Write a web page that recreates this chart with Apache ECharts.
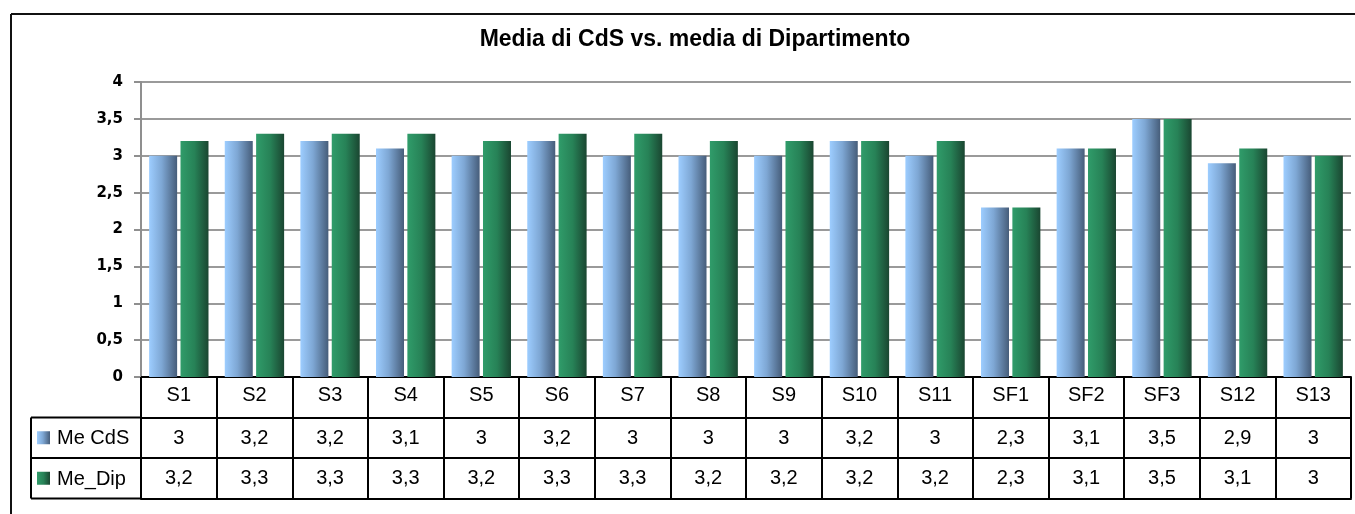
<!DOCTYPE html>
<html>
<head>
<meta charset="utf-8">
<script src="https://cdn.jsdelivr.net/npm/echarts@6/dist/echarts.min.js"></script>
<style>
  html, body { margin: 0; padding: 0; background: #fff; }
  #chart { width: 1355px; height: 514px; }
</style>
</head>
<body>
<div id="chart"></div>
<script>
// dati
const categories = ['S1', 'S2', 'S3', 'S4', 'S5', 'S6', 'S7', 'S8', 'S9', 'S10', 'S11', 'SF1', 'SF2', 'SF3', 'S12', 'S13'];
const seriesNames = ['Me CdS', 'Me_Dip'];
const meCdS = [3, 3.2, 3.2, 3.1, 3, 3.2, 3, 3, 3, 3.2, 3, 2.3, 3.1, 3.5, 2.9, 3];
const meDip = [3.2, 3.3, 3.3, 3.3, 3.2, 3.3, 3.3, 3.2, 3.2, 3.2, 3.2, 2.3, 3.1, 3.5, 3.1, 3];

const fmt = v => String(v).replace('.', ',');

const blueGrad = new echarts.graphic.LinearGradient(0, 0, 1, 0, [
  { offset: 0, color: '#9dcdff' },
  { offset: 0.45, color: '#7ea7d4' },
  { offset: 1, color: '#465d7a' }
]);
const greenGrad = new echarts.graphic.LinearGradient(0, 0, 1, 0, [
  { offset: 0, color: '#309c6a' },
  { offset: 0.5, color: '#278257' },
  { offset: 1, color: '#1a4631' }
]);

// layout
const gLeft = 141, gRight = 1351, gTop = 82, gBottom = 377;
const rowH = 40.5;
const tableLeft = 31;
const tableFont = 'Liberation Sans, Arial';

const myChart = echarts.init(document.querySelector('#chart'));

const tableAxis = (offset, values, showLabel, margin) => ({
  type: 'category',
  position: 'bottom',
  offset: offset,
  gridIndex: 0,
  data: categories,
  axisLine: { show: true, lineStyle: { color: '#000', width: 2 } },
  axisTick: { show: offset < 3 * rowH, length: rowH, lineStyle: { color: '#000', width: 2 } },
  axisLabel: {
    show: showLabel,
    margin: margin,
    fontFamily: tableFont,
    fontSize: 20,
    color: '#000',
    verticalAlign: 'middle',
    formatter: (v, i) => values ? fmt(values[i]) : v
  },
  splitLine: { show: false }
});

const option = {
  animation: false,
  title: {
    text: 'Media di CdS vs. media di Dipartimento',
    left: 690,
    top: 23,
    textAlign: 'center',
    textStyle: { fontFamily: tableFont, fontWeight: 'bold', fontSize: 23, color: '#000' }
  },
  grid: { left: gLeft, right: 1355 - gRight, top: gTop, bottom: 514 - gBottom, containLabel: false },
  xAxis: [
    tableAxis(0, null, true, 18),
    tableAxis(rowH, meCdS, true, 21),
    tableAxis(rowH * 2, meDip, true, 20),
    tableAxis(rowH * 3, null, false, 0)
  ],
  yAxis: {
    type: 'value',
    min: 0,
    max: 4,
    interval: 0.5,
    axisLine: { show: true, lineStyle: { color: '#8f8f8f', width: 2 } },
    axisTick: { show: true, length: 7, lineStyle: { color: '#8f8f8f', width: 2 } },
    axisLabel: {
      margin: 18,
      fontFamily: 'DejaVu Sans',
      fontWeight: 'bold',
      fontSize: 15,
      color: '#000',
      padding: [6, 0, 0, 0],
      formatter: v => fmt(v)
    },
    splitLine: { lineStyle: { color: '#9a9a9a', width: 2 } }
  },
  series: [
    {
      name: seriesNames[0],
      type: 'bar',
      xAxisIndex: 0,
      data: meCdS,
      barWidth: 28,
      barGap: '12%',
      itemStyle: { color: blueGrad }
    },
    {
      name: seriesNames[1],
      type: 'bar',
      xAxisIndex: 0,
      data: meDip,
      barWidth: 28,
      itemStyle: { color: greenGrad }
    }
  ],
  graphic: [
    // bordo esterno del grafico
    { type: 'line', shape: { x1: 11, y1: 14, x2: 1360, y2: 14 }, style: { stroke: '#111', lineWidth: 2 } },
    { type: 'line', shape: { x1: 11, y1: 14, x2: 11, y2: 520 }, style: { stroke: '#111', lineWidth: 2 } },
    // colonna legenda della tabella
    { type: 'line', shape: { x1: tableLeft, y1: gBottom + rowH, x2: gLeft, y2: gBottom + rowH }, style: { stroke: '#000', lineWidth: 2 } },
    { type: 'line', shape: { x1: tableLeft, y1: gBottom + rowH * 2, x2: gLeft, y2: gBottom + rowH * 2 }, style: { stroke: '#000', lineWidth: 2 } },
    { type: 'line', shape: { x1: tableLeft, y1: gBottom + rowH * 3, x2: gLeft, y2: gBottom + rowH * 3 }, style: { stroke: '#000', lineWidth: 2 } },
    { type: 'line', shape: { x1: tableLeft, y1: gBottom + rowH, x2: tableLeft, y2: gBottom + rowH * 3 }, style: { stroke: '#000', lineWidth: 2 } },
    { type: 'line', shape: { x1: gLeft, y1: gBottom, x2: gLeft, y2: gBottom + rowH * 3 }, style: { stroke: '#000', lineWidth: 2 } },
    { type: 'rect', shape: { x: 37, y: gBottom + rowH * 1.5 - 6.5, width: 13, height: 13 }, style: { fill: blueGrad } },
    { type: 'rect', shape: { x: 37, y: gBottom + rowH * 2.5 - 6.5, width: 13, height: 13 }, style: { fill: greenGrad } },
    { type: 'text', x: 57, y: gBottom + rowH * 1.5 + 1, style: { text: seriesNames[0], fontFamily: tableFont, fontSize: 20, fill: '#000', verticalAlign: 'middle' } },
    { type: 'text', x: 57, y: gBottom + rowH * 2.5 + 1, style: { text: seriesNames[1], fontFamily: tableFont, fontSize: 20, fill: '#000', verticalAlign: 'middle' } }
  ]
};

myChart.setOption(option);
</script>
</body>
</html>
